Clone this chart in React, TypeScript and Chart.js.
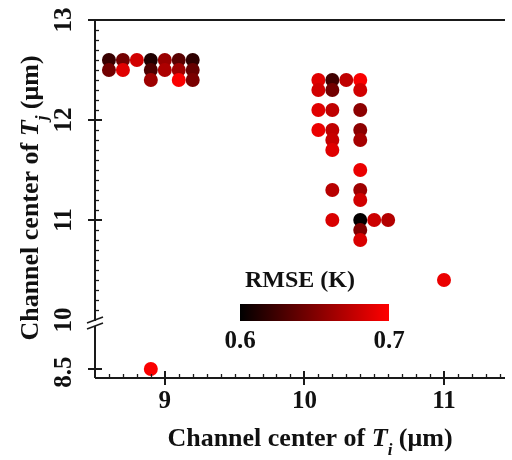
import React, { useEffect, useRef } from "react";
import { Chart, registerables } from "chart.js";

Chart.register(...registerables);

// ---- Data ----
const X_VALUES = [
  8.6, 8.6, 8.7, 8.7, 8.8, 8.9, 8.9, 8.9, 9.0, 9.0, 9.1, 9.1, 9.1, 9.2, 9.2, 9.2,
  10.1, 10.1, 10.2, 10.2, 10.3, 10.4, 10.4, 10.1, 10.2, 10.4, 10.1, 10.2, 10.2, 10.2,
  10.4, 10.4, 10.4, 10.2, 10.4, 10.4, 10.2, 10.4, 10.5, 10.6, 10.4, 10.4, 11.0, 8.9,
];
const Y_VALUES = [
  12.6, 12.5, 12.6, 12.5, 12.6, 12.6, 12.5, 12.4, 12.6, 12.5, 12.6, 12.5, 12.4, 12.6, 12.5, 12.4,
  12.4, 12.3, 12.4, 12.3, 12.4, 12.4, 12.3, 12.1, 12.1, 12.1, 11.9, 11.9, 11.8, 11.7,
  11.9, 11.8, 11.5, 11.3, 11.3, 11.2, 11.0, 11.0, 11.0, 11.0, 10.9, 10.8, 10.4, 8.5,
];
const RMSE_VALUES = [
  0.622, 0.645, 0.645, 0.688, 0.682, 0.612, 0.630, 0.662, 0.660, 0.668, 0.635, 0.662, 0.698, 0.618, 0.640, 0.648,
  0.688, 0.682, 0.625, 0.645, 0.675, 0.698, 0.682, 0.688, 0.675, 0.655, 0.692, 0.675, 0.678, 0.688,
  0.655, 0.665, 0.692, 0.672, 0.662, 0.682, 0.685, 0.601, 0.680, 0.670, 0.650, 0.685, 0.692, 0.698,
];
const X_TICKS = [9, 10, 11];
const Y_TICKS = [13, 12, 11, 10, 8.5];
const COLORBAR_TICKS = [0.6, 0.7];
const RMSE_MIN = 0.6;
const RMSE_MAX = 0.7;
const Y_BREAK = 10;
const LOWER_SEGMENT_SCALE = 0.49 / 1.5;

const X_MIN = 8.5;
const X_MAX = 11.437;
const Y_MIN_MAPPED = 9.42;
const Y_MAX = 13;

const mapY = (v: number) => (v >= Y_BREAK ? v : Y_BREAK - (Y_BREAK - v) * LOWER_SEGMENT_SCALE);
const rmseColor = (v: number) => {
  const t = Math.max(0, Math.min(1, (v - RMSE_MIN) / (RMSE_MAX - RMSE_MIN)));
  return `rgb(${Math.round(255 * t)},0,0)`;
};

const FONT = "'Liberation Serif', 'Times New Roman', serif";

type Seg = { t: string; f: string; dy?: number };

function drawRich(ctx: CanvasRenderingContext2D, segs: Seg[], cx: number, baseY: number) {
  let total = 0;
  const widths = segs.map((s) => {
    ctx.font = s.f;
    const w = ctx.measureText(s.t).width;
    total += w;
    return w;
  });
  let x = cx - total / 2;
  ctx.textAlign = "left";
  ctx.textBaseline = "alphabetic";
  segs.forEach((s, i) => {
    ctx.font = s.f;
    ctx.fillText(s.t, x, baseY + (s.dy || 0));
    x += widths[i];
  });
}

const axesPlugin = {
  id: "customAxes",
  afterDraw(chart: any) {
    const { ctx, chartArea } = chart;
    const xs = chart.scales.x;
    const ys = chart.scales.y;
    const { left, right, top, bottom } = chartArea;
    ctx.save();
    ctx.strokeStyle = "#1a1a1a";
    ctx.fillStyle = "#111";
    const line = (x1: number, y1: number, x2: number, y2: number, w: number) => {
      ctx.lineWidth = w;
      ctx.beginPath();
      ctx.moveTo(x1, y1);
      ctx.lineTo(x2, y2);
      ctx.stroke();
    };
    // axis lines
    line(left, top, left, bottom, 2);
    line(left, bottom, right, bottom, 2);
    line(left - 7, top, right, top, 2);

    // y minor ticks (upper segment)
    for (let k = 101; k < 130; k++) {
      if (k % 10 === 0) continue;
      const py = Math.round(ys.getPixelForValue(k / 10)) + 0.5;
      line(left, py, left + 4, py, 1.3);
    }
    // y major ticks
    [12, 11, 8.5].forEach((v) => {
      const py = Math.round(ys.getPixelForValue(mapY(v)));
      line(left - 7, py, left + 7, py, 2);
    });
    // x minor ticks
    for (let k = 86; k <= 114; k++) {
      if (k % 10 === 0) continue;
      const px = Math.round(xs.getPixelForValue(k / 10)) + 0.5;
      line(px, bottom, px, bottom - 4, 1.3);
    }
    // x major ticks
    X_TICKS.forEach((v) => {
      const px = Math.round(xs.getPixelForValue(v));
      line(px, bottom - 7, px, bottom + 7, 2);
    });

    // axis break on y
    const pb = ys.getPixelForValue(Y_BREAK) + 4;
    ctx.fillStyle = "#fff";
    ctx.fillRect(left - 2, pb - 3, 4, 5);
    ctx.fillStyle = "#111";
    line(left - 8, pb - 1, left + 8, pb - 7, 1.6);
    line(left - 8, pb + 5, left + 8, pb - 1, 1.6);

    // x tick labels
    ctx.font = `bold 25px ${FONT}`;
    ctx.textAlign = "center";
    ctx.textBaseline = "middle";
    X_TICKS.forEach((v) => {
      ctx.fillText(String(v), xs.getPixelForValue(v), bottom + 24);
    });
    // y tick labels (rotated)
    Y_TICKS.forEach((v) => {
      const py = ys.getPixelForValue(mapY(v));
      ctx.save();
      ctx.translate(left - 30, py + (v === 8.5 ? 3 : 0));
      ctx.rotate(-Math.PI / 2);
      ctx.fillText(String(v), 0, 0);
      ctx.restore();
    });

    // axis titles
    const big = `bold 26px ${FONT}`;
    const it = `italic bold 26px ${FONT}`;
    const sub = `italic bold 17px ${FONT}`;
    drawRich(
      ctx,
      [
        { t: "Channel center of ", f: big },
        { t: "T", f: it },
        { t: "i", f: sub, dy: 9 },
        { t: " (μm)", f: big },
      ],
      310,
      446
    );
    ctx.save();
    ctx.translate(38, 198);
    ctx.rotate(-Math.PI / 2);
    drawRich(
      ctx,
      [
        { t: "Channel center of ", f: big },
        { t: "T", f: it },
        { t: "j", f: sub, dy: 9 },
        { t: " (μm)", f: big },
      ],
      0,
      0
    );
    ctx.restore();

    // colorbar legend
    const cbL = 240, cbR = 389, cbT = 304, cbB = 321;
    const grad = ctx.createLinearGradient(cbL, 0, cbR, 0);
    grad.addColorStop(0, rmseColor(RMSE_MIN));
    grad.addColorStop(1, rmseColor(RMSE_MAX));
    ctx.fillStyle = grad;
    ctx.fillRect(cbL, cbT, cbR - cbL, cbB - cbT);
    ctx.fillStyle = "#111";
    ctx.font = `bold 24px ${FONT}`;
    ctx.textAlign = "center";
    ctx.textBaseline = "middle";
    ctx.fillText("RMSE (K)", 300, 281);
    ctx.font = `bold 25px ${FONT}`;
    COLORBAR_TICKS.forEach((v) => {
      const px = cbL + ((v - RMSE_MIN) / (RMSE_MAX - RMSE_MIN)) * (cbR - cbL);
      ctx.fillText(v.toFixed(1), px, 342);
    });
    ctx.restore();
  },
};

export default function App() {
  const ref = useRef<HTMLCanvasElement | null>(null);
  useEffect(() => {
    if (!ref.current) return;
    const data = X_VALUES.map((x, i) => ({ x, y: mapY(Y_VALUES[i]) }));
    const chart = new Chart(ref.current, {
      type: "scatter",
      data: {
        datasets: [
          {
            data,
            backgroundColor: RMSE_VALUES.map(rmseColor),
            borderWidth: 0,
            pointRadius: 7,
            pointHoverRadius: 7,
          },
        ],
      },
      options: {
        animation: false,
        responsive: false,
        events: [],
        layout: { padding: { top: 20, right: 0, left: 0, bottom: 0 } },
        plugins: { legend: { display: false }, tooltip: { enabled: false } },
        scales: {
          x: {
            type: "linear",
            min: X_MIN,
            max: X_MAX,
            ticks: { display: false },
            grid: { display: false },
            border: { display: false },
            afterFit: (s: any) => {
              s.height = 82;
            },
          },
          y: {
            type: "linear",
            min: Y_MIN_MAPPED,
            max: Y_MAX,
            ticks: { display: false },
            grid: { display: false },
            border: { display: false },
            afterFit: (s: any) => {
              s.width = 95;
            },
          },
        },
      },
      plugins: [axesPlugin],
    });
    return () => chart.destroy();
  }, []);
  return (
    <div style={{ position: "absolute", left: 0, top: 0, width: 512, height: 460, background: "#fff" }}>
      <canvas ref={ref} width={512} height={460} style={{ display: "block" }} />
    </div>
  );
}
